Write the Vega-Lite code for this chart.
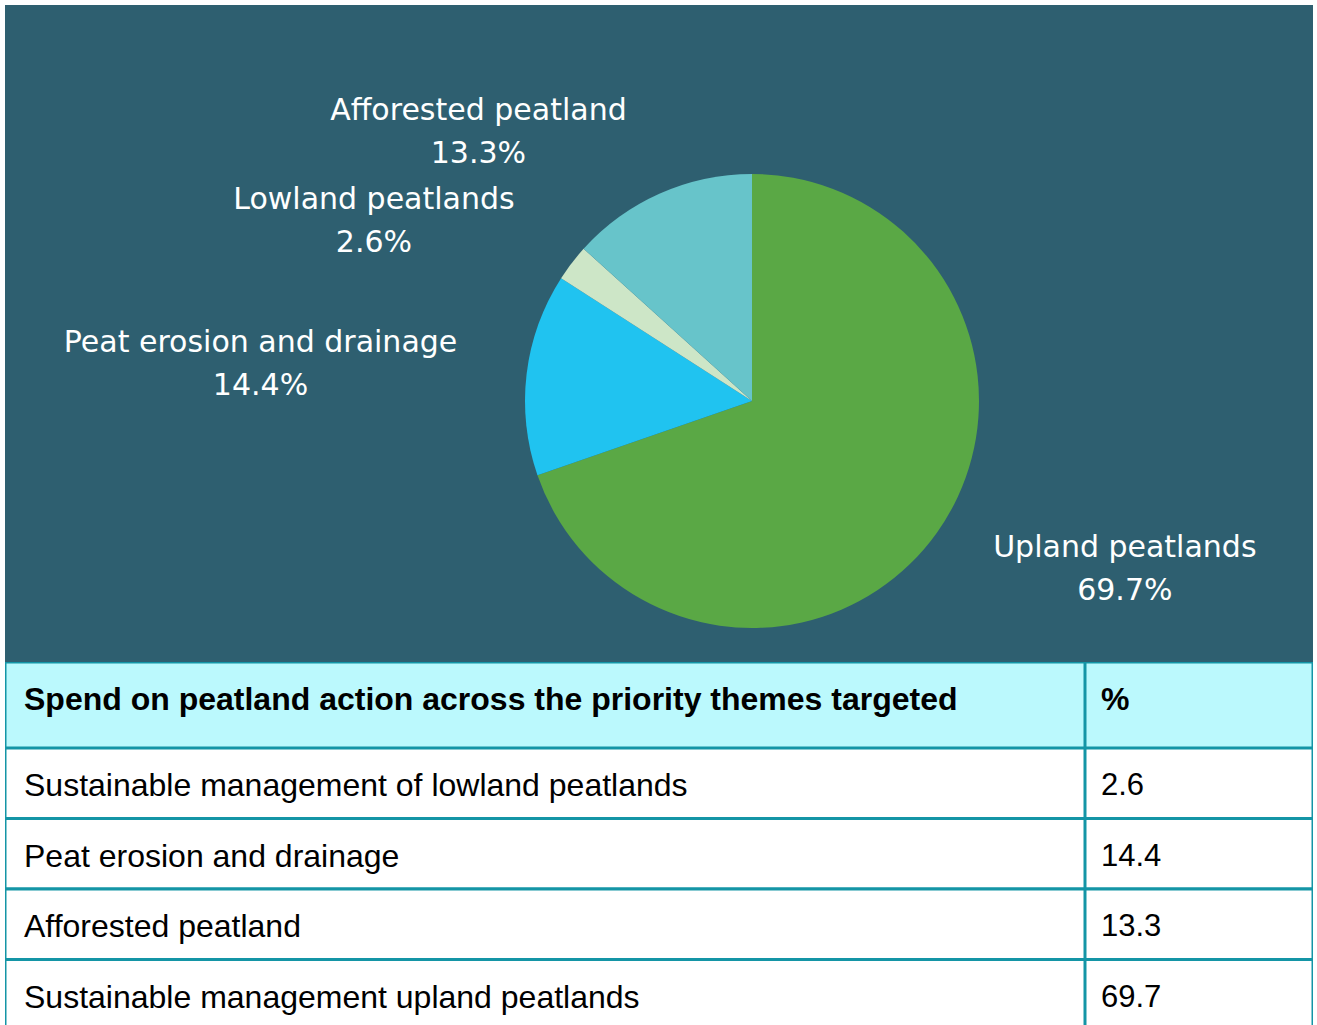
{
  "$schema": "https://vega.github.io/schema/vega-lite/v6.json",
  "background": "white",
  "padding": {"left": 5, "top": 5, "right": 4, "bottom": 0},
  "spacing": 0,
  "config": {"view": {"stroke": null}, "concat": {"spacing": 0}},
  "datasets": {
    "themes": [
      {"theme": "Upland peatlands", "pieLabel": "Upland peatlands\n69.7%", "tableName": "Sustainable management upland peatlands", "pct": 69.7, "pieOrder": 1, "tableOrder": 4},
      {"theme": "Peat erosion and drainage", "pieLabel": "Peat erosion and drainage\n14.4%", "tableName": "Peat erosion and drainage", "pct": 14.4, "pieOrder": 2, "tableOrder": 2},
      {"theme": "Lowland peatlands", "pieLabel": "Lowland peatlands\n2.6%", "tableName": "Sustainable management of lowland peatlands", "pct": 2.6, "pieOrder": 3, "tableOrder": 1},
      {"theme": "Afforested peatland", "pieLabel": "Afforested peatland\n13.3%", "tableName": "Afforested peatland", "pct": 13.3, "pieOrder": 4, "tableOrder": 3}
    ]
  },
  "vconcat": [
    {
      "width": 1308,
      "height": 657,
      "view": {"fill": "#2e5f70", "stroke": null},
      "data": {"name": "themes"},
      "layer": [
        {
          "mark": {"type": "arc", "outerRadius": 227, "x": 747, "y": 396},
          "encoding": {
            "theta": {"field": "pct", "type": "quantitative", "stack": true},
            "order": {"field": "pieOrder", "type": "quantitative"},
            "color": {"field": "theme", "type": "nominal", "legend": null,
              "scale": {"domain": ["Upland peatlands", "Peat erosion and drainage", "Lowland peatlands", "Afforested peatland"],
                        "range": ["#5aa845", "#20c3f0", "#cde6c7", "#67c4ca"]}}
          }
        },
        {
          "mark": {"type": "text", "clip": true, "x": 747, "y": 396, "radius": 376, "dx": -121, "dy": 54, "fill": "white", "font": "DejaVu Sans", "fontSize": 30, "lineBreak": "\n", "lineHeight": 43, "align": "center", "baseline": "middle"},
          "encoding": {
            "theta": {"field": "pct", "type": "quantitative", "stack": true},
            "order": {"field": "pieOrder", "type": "quantitative"},
            "detail": {"field": "theme", "type": "nominal"},
            "text": {"condition": {"test": "datum.theme === 'Afforested peatland'", "field": "pieLabel", "type": "nominal"}, "value": ""}
          }
        },
        {
          "mark": {"type": "text", "clip": true, "x": 747, "y": 396, "radius": 422, "dx": -43, "dy": 56, "fill": "white", "font": "DejaVu Sans", "fontSize": 30, "lineBreak": "\n", "lineHeight": 43, "align": "center", "baseline": "middle"},
          "encoding": {
            "theta": {"field": "pct", "type": "quantitative", "stack": true},
            "order": {"field": "pieOrder", "type": "quantitative"},
            "detail": {"field": "theme", "type": "nominal"},
            "text": {"condition": {"test": "datum.theme === 'Lowland peatlands'", "field": "pieLabel", "type": "nominal"}, "value": ""}
          }
        },
        {
          "mark": {"type": "text", "clip": true, "x": 747, "y": 396, "radius": 495, "dx": 0, "dy": 1, "fill": "white", "font": "DejaVu Sans", "fontSize": 30, "lineBreak": "\n", "lineHeight": 43, "align": "center", "baseline": "middle"},
          "encoding": {
            "theta": {"field": "pct", "type": "quantitative", "stack": true},
            "order": {"field": "pieOrder", "type": "quantitative"},
            "detail": {"field": "theme", "type": "nominal"},
            "text": {"condition": {"test": "datum.theme === 'Peat erosion and drainage'", "field": "pieLabel", "type": "nominal"}, "value": ""}
          }
        },
        {
          "mark": {"type": "text", "clip": true, "x": 747, "y": 396, "radius": 389, "dx": 56, "dy": -79, "fill": "white", "font": "DejaVu Sans", "fontSize": 30, "lineBreak": "\n", "lineHeight": 43, "align": "center", "baseline": "middle"},
          "encoding": {
            "theta": {"field": "pct", "type": "quantitative", "stack": true},
            "order": {"field": "pieOrder", "type": "quantitative"},
            "detail": {"field": "theme", "type": "nominal"},
            "text": {"condition": {"test": "datum.theme === 'Upland peatlands'", "field": "pieLabel", "type": "nominal"}, "value": ""}
          }
        }
      ]
    },
    {
      "spacing": 0,
      "hconcat": [
        {
          "width": 1080,
          "height": 86,
          "data": {"values": [{"header": "Spend on peatland action across the priority themes targeted"}]},
          "layer": [
            {"mark": {"type": "rect", "fill": "#bbf9fd", "stroke": "#1495a6", "strokeWidth": 3, "clip": true}, "encoding": {}},
            {"mark": {"type": "text", "x": 19, "y": 38, "align": "left", "baseline": "middle", "font": "Liberation Sans", "fontSize": 32, "fontWeight": "bold", "fill": "black"},
             "encoding": {"text": {"field": "header", "type": "nominal"}}}
          ]
        },
        {
          "width": 228,
          "height": 86,
          "data": {"values": [{"header": "%"}]},
          "layer": [
            {"mark": {"type": "rect", "fill": "#bbf9fd", "stroke": "#1495a6", "strokeWidth": 3, "clip": true}, "encoding": {}},
            {"mark": {"type": "text", "x": 16, "y": 38, "align": "left", "baseline": "middle", "font": "Liberation Sans", "fontSize": 32, "fontWeight": "bold", "fill": "black"},
             "encoding": {"text": {"field": "header", "type": "nominal"}}}
          ]
        }
      ]
    },
    {
      "spacing": 0,
      "hconcat": [
        {
          "width": 1080,
          "height": 277,
          "data": {"name": "themes"},
          "encoding": {"y": {"field": "tableOrder", "type": "ordinal", "axis": null, "scale": {"range": [0, 282], "paddingInner": 0, "paddingOuter": 0}}},
          "layer": [
            {"mark": {"type": "rect", "fill": "white", "stroke": "#1495a6", "strokeWidth": 3, "clip": true}},
            {"mark": {"type": "text", "x": 19, "dy": 3, "align": "left", "baseline": "middle", "font": "Liberation Sans", "fontSize": 32, "fill": "black"},
             "encoding": {"text": {"field": "tableName", "type": "nominal"}}}
          ]
        },
        {
          "width": 228,
          "height": 277,
          "data": {"name": "themes"},
          "encoding": {"y": {"field": "tableOrder", "type": "ordinal", "axis": null, "scale": {"range": [0, 282], "paddingInner": 0, "paddingOuter": 0}}},
          "layer": [
            {"mark": {"type": "rect", "fill": "white", "stroke": "#1495a6", "strokeWidth": 3, "clip": true}},
            {"mark": {"type": "text", "x": 16, "dy": 3, "align": "left", "baseline": "middle", "font": "Liberation Sans", "fontSize": 31, "fill": "black"},
             "encoding": {"text": {"field": "pct", "type": "quantitative", "format": ".1f"}}}
          ]
        }
      ]
    }
  ]
}
